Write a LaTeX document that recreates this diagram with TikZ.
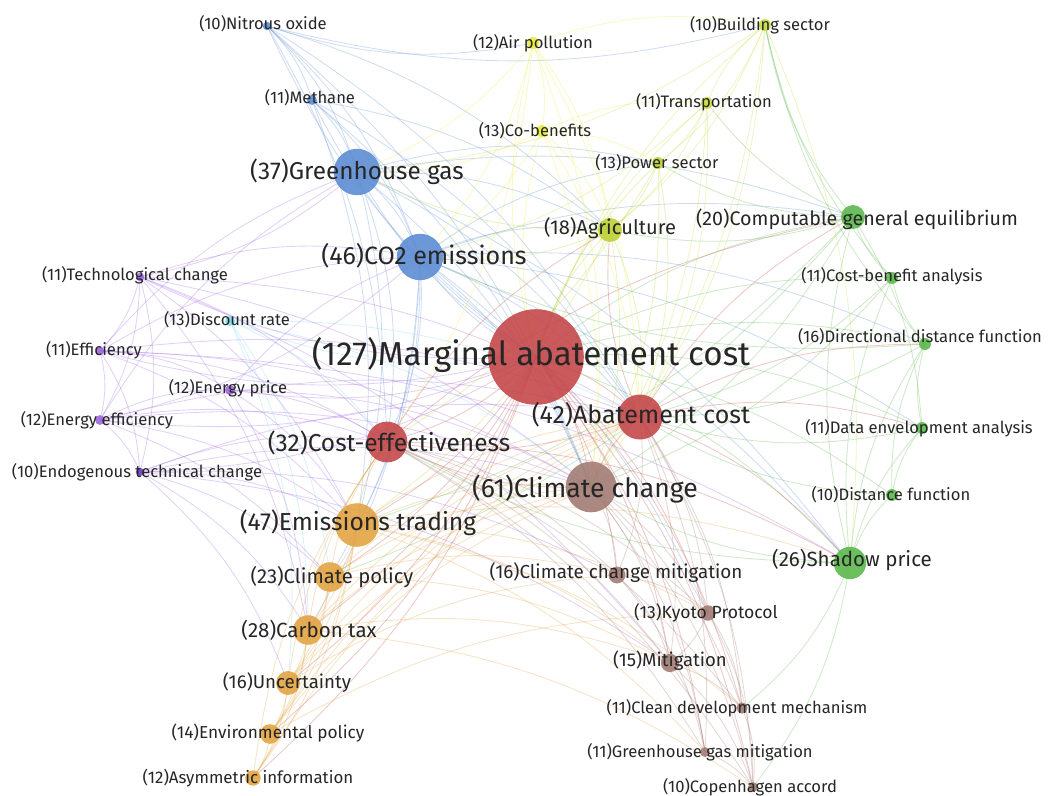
\documentclass[tikz,border=0pt]{standalone}
\usepackage{fontspec}
\setmainfont{Fira Sans}
\usepackage{xcolor}
\usepackage{tikz}
\usetikzlibrary{backgrounds}

\definecolor{cblue}{HTML}{5D8DD4}
\definecolor{cpurple}{HTML}{A066E0}
\definecolor{cdpurple}{HTML}{7040C8}
\definecolor{ccyan}{HTML}{80D8E8}
\definecolor{cred}{HTML}{C4484A}
\definecolor{cbrown}{HTML}{A27C74}
\definecolor{corange}{HTML}{E2A442}
\definecolor{cgreen}{HTML}{5CB84C}
\definecolor{cyellow}{HTML}{E8EC3C}
\definecolor{colive}{HTML}{BCD034}
\definecolor{clime}{HTML}{C8DC44}

\tikzset{
  dot/.style={circle, inner sep=0pt, draw=none, fill opacity=0.9},
  lbl/.style={inner sep=0pt, text=black!85},
  small/.style={lbl, font=\fontsize{11.8}{13}\selectfont},
  link/.style={line width=0.6pt, draw opacity=0.3},
}

\begin{document}
\begin{tikzpicture}[x=0.025cm, y=-0.025cm]
  \useasboundingbox (0,0) rectangle (1055,796);

  % keywords, blue cluster
  \node[dot, fill=cblue, minimum size=6pt] (nox) at (267,26) {};
  \node[small] (nox-l) at (263,24) {(10)Nitrous oxide};
  \node[dot, fill=cblue, minimum size=7pt] (meth) at (312,100) {};
  \node[small] (meth-l) at (310,98) {(11)Methane};
  \node[dot, fill=cblue, minimum size=33pt] (ghg) at (357,172) {};
  \node[lbl, font=\fontsize{17.3}{19}\selectfont] (ghg-l) at (357,172) {(37)Greenhouse gas};
  \node[dot, fill=cblue, minimum size=33pt] (co2) at (420,257) {};
  \node[lbl, font=\fontsize{17.8}{19}\selectfont] (co2-l) at (424,256) {(46)CO2 emissions};

  % purple cluster
  \node[dot, fill=cpurple, minimum size=6pt] (tech) at (140,277) {};
  \node[small] (tech-l) at (135,275) {(11)Technological change};
  \node[dot, fill=ccyan, minimum size=7pt] (disc) at (230,321) {};
  \node[small] (disc-l) at (227,320) {(13)Discount rate};
  \node[dot, fill=cpurple, minimum size=6pt] (eff) at (100,351) {};
  \node[small] (eff-l) at (94,350) {(11)Efficiency};
  \node[dot, fill=cpurple, minimum size=7pt] (eprice) at (230,390) {};
  \node[small] (eprice-l) at (228,388) {(12)Energy price};
  \node[dot, fill=cpurple, minimum size=7pt] (eeff) at (100,420) {};
  \node[small] (eeff-l) at (97,420) {(12)Energy efficiency};
  \node[dot, fill=cdpurple, minimum size=6pt] (endo) at (140,472) {};
  \node[small] (endo-l) at (137,472) {(10)Endogenous technical change};

  % red cluster
  \node[dot, fill=cred, minimum size=68pt] (mac) at (536,357) {};
  \node[lbl, font=\fontsize{23.6}{26}\selectfont] (mac-l) at (531,355) {(127)Marginal abatement cost};
  \node[dot, fill=cred, minimum size=29pt] (ce) at (387,442) {};
  \node[lbl, font=\fontsize{17.4}{19}\selectfont] (ce-l) at (389,443) {(32)Cost-effectiveness};
  \node[dot, fill=cred, minimum size=32pt] (ac) at (640,417) {};
  \node[lbl, font=\fontsize{17.8}{19}\selectfont] (ac-l) at (641,415) {(42)Abatement cost};

  % brown cluster
  \node[dot, fill=cbrown, minimum size=36pt] (cc) at (591,487) {};
  \node[lbl, font=\fontsize{18.9}{21}\selectfont] (cc-l) at (585,489) {(61)Climate change};
  \node[dot, fill=cbrown, minimum size=12pt] (ccm) at (617,575) {};
  \node[lbl, font=\fontsize{13.4}{15}\selectfont] (ccm-l) at (616,573) {(16)Climate change mitigation};
  \node[dot, fill=cbrown, minimum size=11pt] (kyoto) at (708,613) {};
  \node[lbl, font=\fontsize{12.5}{14}\selectfont] (kyoto-l) at (706,613) {(13)Kyoto Protocol};
  \node[dot, fill=cbrown, minimum size=13pt] (mitig) at (670,663) {};
  \node[lbl, font=\fontsize{13.2}{15}\selectfont] (mitig-l) at (670,661) {(15)Mitigation};
  \node[dot, fill=cbrown, minimum size=8pt] (cdm) at (742,708) {};
  \node[small] (cdm-l) at (737,708) {(11)Clean development mechanism};
  \node[dot, fill=cbrown, minimum size=7pt] (ghgm) at (705,752) {};
  \node[small] (ghgm-l) at (700,752) {(11)Greenhouse gas mitigation};
  \node[dot, fill=cbrown, minimum size=7pt] (copen) at (753,787) {};
  \node[small] (copen-l) at (750,787) {(10)Copenhagen accord};

  % orange cluster
  \node[dot, fill=corange, minimum size=31pt] (etrade) at (357,525) {};
  \node[lbl, font=\fontsize{17.5}{19}\selectfont] (etrade-l) at (358,523) {(47)Emissions trading};
  \node[dot, fill=corange, minimum size=21pt] (cpol) at (330,577) {};
  \node[lbl, font=\fontsize{14.4}{16}\selectfont] (cpol-l) at (332,577) {(23)Climate policy};
  \node[dot, fill=corange, minimum size=21pt] (ctax) at (308,630) {};
  \node[lbl, font=\fontsize{14.6}{16}\selectfont] (ctax-l) at (309,630) {(28)Carbon tax};
  \node[dot, fill=corange, minimum size=17pt] (uncert) at (288,683) {};
  \node[lbl, font=\fontsize{13.3}{15}\selectfont] (uncert-l) at (287,683) {(16)Uncertainty};
  \node[dot, fill=corange, minimum size=14pt] (envpol) at (270,734) {};
  \node[lbl, font=\fontsize{12.3}{14}\selectfont] (envpol-l) at (268,733) {(14)Environmental policy};
  \node[dot, fill=corange, minimum size=11pt] (asym) at (253,778) {};
  \node[lbl, font=\fontsize{12}{14}\selectfont] (asym-l) at (248,778) {(12)Asymmetric information};

  % green cluster
  \node[dot, fill=cgreen, minimum size=23pt] (shadow) at (850,563) {};
  \node[lbl, font=\fontsize{14.6}{16}\selectfont] (shadow-l) at (852,560) {(26)Shadow price};
  \node[dot, fill=cgreen, minimum size=8.5pt] (dist) at (892,495) {};
  \node[small] (dist-l) at (891,495) {(10)Distance function};
  \node[dot, fill=cgreen, minimum size=8.5pt] (dea) at (922,428) {};
  \node[small] (dea-l) at (919,428) {(11)Data envelopment analysis};
  \node[dot, fill=cgreen, minimum size=8.5pt] (ddf) at (925,344) {};
  \node[small] (ddf-l) at (920,337) {(16)Directional distance function};
  \node[dot, fill=cgreen, minimum size=8.5pt] (cba) at (892,278) {};
  \node[small] (cba-l) at (892,276) {(11)Cost-benefit analysis};
  \node[dot, fill=cgreen, minimum size=17pt] (cge) at (853,217) {};
  \node[lbl, font=\fontsize{14}{16}\selectfont] (cge-l) at (857,219) {(20)Computable general equilibrium};

  % yellow cluster
  \node[dot, fill=colive, minimum size=17pt] (agri) at (610,230) {};
  \node[lbl, font=\fontsize{14.3}{16}\selectfont] (agri-l) at (610,228) {(18)Agriculture};
  \node[dot, fill=colive, minimum size=8.5pt] (power) at (658,163) {};
  \node[small] (power-l) at (657,163) {(13)Power sector};
  \node[dot, fill=clime, minimum size=8.5pt] (trans) at (707,103) {};
  \node[small] (trans-l) at (704,102) {(11)Transportation};
  \node[dot, fill=clime, minimum size=8.5pt] (build) at (765,25) {};
  \node[small] (build-l) at (760,25) {(10)Building sector};
  \node[dot, fill=cyellow, minimum size=8.5pt] (air) at (533,43) {};
  \node[small] (air-l) at (533,43) {(12)Air pollution};
  \node[dot, fill=cyellow, minimum size=8.5pt] (cob) at (542,131) {};
  \node[small] (cob-l) at (535,131) {(13)Co-benefits};

  % links
  \begin{scope}[on background layer]
    \foreach \a/\b/\c in {
      mac/ac/cred, mac/ce/cred, mac/cc/cred, mac/etrade/cred, mac/cpol/cred, mac/ctax/cred,
      mac/uncert/cred, mac/envpol/cred, mac/asym/cred, mac/ccm/cred, mac/kyoto/cred,
      mac/mitig/cred, mac/cdm/cred, mac/ghgm/cred, mac/copen/cred, mac/ghg/cblue,
      mac/co2/cblue, mac/nox/cblue, mac/meth/cblue, mac/shadow/cgreen, mac/dist/cgreen,
      mac/dea/cgreen, mac/ddf/cgreen, mac/cba/cgreen, mac/cge/cgreen, mac/agri/colive,
      mac/power/colive, mac/trans/clime, mac/build/clime, mac/air/cyellow, mac/cob/cyellow,
      mac/tech/cpurple, mac/eff/cpurple, mac/eeff/cpurple, mac/eprice/cpurple,
      mac/endo/cpurple, mac/disc/ccyan,
      nox/meth/cblue, nox/ghg/cblue, nox/co2/cblue, nox/agri/cblue, nox/ac/cblue,
      nox/cc/cblue, nox/ce/cblue, air/nox/cblue, build/nox/cblue, meth/ghg/cblue,
      meth/co2/cblue, meth/agri/cblue, meth/ac/cblue, meth/cc/cblue, meth/etrade/cblue,
      ghg/co2/cblue, ghg/ac/cblue, ghg/cc/cblue, ghg/ce/cblue, ghg/etrade/cblue,
      ghg/agri/cblue, ghg/cge/cblue, ghg/tech/cpurple, ghg/shadow/cblue, ghg/power/cblue,
      co2/ac/cblue, co2/cc/cblue, co2/ce/cblue, co2/etrade/cblue, co2/shadow/cblue,
      co2/ddf/cblue, co2/cge/cblue, co2/agri/cblue, co2/power/cblue, co2/cpol/cblue,
      co2/ctax/cblue, co2/eeff/cpurple, co2/dea/cblue, co2/kyoto/cblue,
      tech/eff/cpurple, tech/eeff/cpurple, tech/endo/cpurple, tech/ce/cpurple,
      tech/etrade/cpurple, tech/ctax/cpurple, tech/co2/cpurple, tech/cc/cpurple,
      tech/ac/cpurple, tech/mitig/cpurple,
      eff/eeff/cpurple, eff/endo/cpurple, eff/eprice/cpurple, eff/ce/cpurple,
      eff/etrade/cpurple, eff/co2/cpurple, eff/ghg/cpurple, eff/cc/cpurple,
      eff/ac/cpurple, eff/shadow/cpurple,
      eeff/endo/cpurple, eeff/eprice/cpurple, eeff/ce/cpurple, eeff/etrade/cpurple,
      eeff/cpol/cpurple, eeff/ac/cpurple, eeff/cc/cpurple, eeff/ghg/cpurple,
      eprice/ce/cpurple, eprice/etrade/cpurple,
      eprice/ctax/cpurple, eprice/co2/cpurple, eprice/cc/cpurple, endo/etrade/cpurple,
      endo/cpol/cpurple, endo/ctax/cpurple, endo/ce/cpurple, endo/cc/cpurple,
      endo/ac/cpurple, endo/uncert/cpurple, endo/ccm/cpurple, endo/mitig/cpurple,
      disc/cc/ccyan, disc/ce/ccyan,
      disc/uncert/ccyan, disc/ctax/ccyan, disc/cpol/ccyan, disc/ac/ccyan,
      etrade/cpol/corange, etrade/ctax/corange, etrade/uncert/corange,
      etrade/envpol/corange, etrade/asym/corange, etrade/ce/corange, etrade/cc/corange,
      etrade/ac/corange, etrade/kyoto/corange, etrade/cdm/corange, etrade/mitig/corange,
      etrade/shadow/corange, etrade/ghgm/corange, cpol/ctax/corange, cpol/uncert/corange,
      cpol/envpol/corange, cpol/cc/corange, cpol/ac/corange, cpol/ce/corange,
      cpol/ccm/corange, cpol/mitig/corange, ctax/uncert/corange, ctax/envpol/corange,
      ctax/asym/corange, ctax/ce/corange, ctax/cc/corange, ctax/ac/corange,
      ctax/mitig/corange, ctax/copen/corange, uncert/envpol/corange, uncert/asym/corange,
      uncert/ce/corange, uncert/cc/corange, uncert/ac/corange, envpol/asym/corange,
      envpol/ac/corange, envpol/cc/corange, asym/ac/corange, asym/ce/corange,
      uncert/ccm/corange, envpol/kyoto/corange,
      cc/ccm/cbrown, cc/kyoto/cbrown, cc/mitig/cbrown, cc/cdm/cbrown, cc/ghgm/cbrown,
      cc/copen/cbrown, cc/ac/cred, cc/ce/cred, ccm/kyoto/cbrown, ccm/mitig/cbrown,
      ccm/ghgm/cbrown, kyoto/mitig/cbrown, kyoto/cdm/cbrown, kyoto/copen/cbrown,
      mitig/ghgm/cbrown, mitig/cdm/cbrown, mitig/copen/cbrown, cdm/copen/cbrown,
      ghgm/copen/cbrown, ac/kyoto/cbrown, ac/mitig/cbrown, ac/ccm/cbrown, ac/cdm/cbrown,
      ac/ghgm/cbrown, ac/copen/cbrown, ce/ccm/cbrown, ce/mitig/cbrown, ce/kyoto/cbrown,
      ce/copen/cbrown, ce/ghgm/cbrown, ce/cdm/cbrown,
      ac/ce/cred, ac/shadow/cred, ac/cge/cred, ac/dea/cred, ac/ddf/cred, ac/agri/cred,
      ce/cge/cred, ce/agri/cred, ce/shadow/cred,
      shadow/dist/cgreen, shadow/dea/cgreen, shadow/ddf/cgreen, shadow/cba/cgreen,
      shadow/cge/cgreen, dist/dea/cgreen, dist/ddf/cgreen, dea/ddf/cgreen,
      ddf/cba/cgreen, cba/cge/cgreen, cge/dea/cgreen, cge/build/cgreen,
      cge/trans/cgreen, cge/power/cgreen, cge/agri/cgreen, cge/cc/cgreen,
      cge/etrade/cgreen, cge/cpol/cgreen, cba/cc/cgreen, cba/ac/cgreen, shadow/cc/cgreen,
      shadow/ce/cgreen, shadow/cdm/cgreen, dea/ac/cgreen, ddf/ac/cgreen, dist/ac/cgreen,
      ddf/co2/cgreen, cba/build/cgreen, ddf/build/cgreen, shadow/copen/cgreen,
      air/cob/cyellow, air/build/cyellow, air/agri/cyellow, air/co2/cyellow,
      air/ghg/cyellow, air/cc/cyellow, air/ac/cyellow, air/ce/cyellow, cob/trans/cyellow,
      cob/agri/cyellow, cob/power/cyellow, cob/cc/cyellow, cob/ac/cyellow,
      cob/co2/cyellow, cob/ghg/cyellow, trans/build/clime, trans/power/clime,
      trans/agri/clime, trans/ac/clime, trans/cc/clime, trans/co2/clime,
      power/agri/colive, power/ac/colive, power/cc/colive, power/ce/colive,
      build/agri/clime, build/power/clime, build/ac/clime, build/cc/clime,
      build/shadow/clime, build/ghg/clime, agri/cc/colive, agri/ac/colive,
      agri/etrade/colive, agri/co2/colive, agri/ghg/colive%
    }
      \draw[link, draw=\c] (\a.center) to[bend left=14] (\b.center);
  \end{scope}
\end{tikzpicture}
\end{document}
